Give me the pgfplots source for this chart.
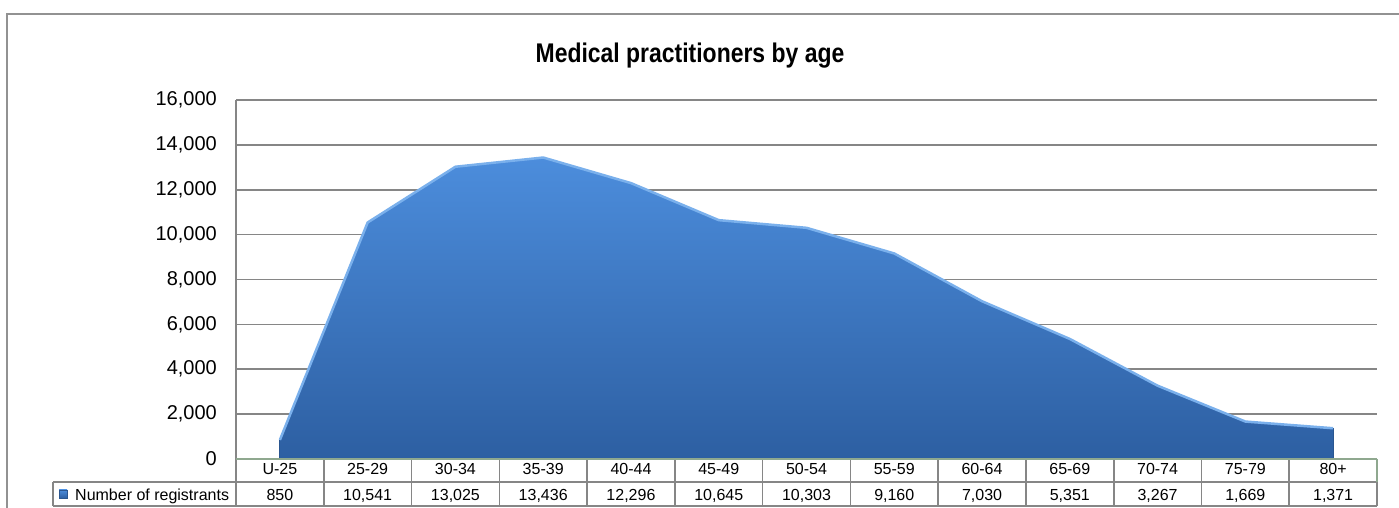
\documentclass[border=0pt]{standalone}
\usepackage{pgfplots}
\pgfplotsset{compat=1.18}
\usepackage{fontspec}
\setmainfont{Liberation Sans}
\definecolor{gridc}{HTML}{868686}
\definecolor{zeroc}{HTML}{8FA88F}
\definecolor{areatop}{HTML}{4C8DDC}
\definecolor{areabot}{HTML}{2D5FA2}
\definecolor{edgec}{HTML}{7AB0EC}
\definecolor{darkedge}{HTML}{2A5690}
\begin{document}
\begin{tikzpicture}[x=1pt,y=1pt]
\useasboundingbox (0,0) rectangle (1399,508);
\fill[white] (0,0) rectangle (1399,508);
\draw[gridc!90, line width=1.6pt] (7,-10) -- (7,494) -- (1420,494);
\node[font=\fontsize{27}{31}\selectfont\bfseries, anchor=base, xscale=0.85] at (690,445) {Medical practitioners by age};
\begin{axis}[
  at={(236pt,49pt)}, anchor=south west,
  scale only axis, width=1141pt, height=359pt,
  xmin=-0.5, xmax=12.5, ymin=0, ymax=16000,
  axis line style={draw=none},
  major tick length=0pt,
  ytick={0,2000,...,16000},
  ymajorgrids, grid style={gridc, line width=1.6pt},
  /pgf/number format/assume math mode=true,
  /pgf/number format/1000 sep={,},
  scaled y ticks=false,
  yticklabel style={font=\fontsize{20}{24}\selectfont, anchor=east, inner sep=0pt, xshift=-19pt},
  xtick={0,...,12},
  xticklabels={U-25,25-29,30-34,35-39,40-44,45-49,50-54,55-59,60-64,65-69,70-74,75-79,80+},
  xticklabel style={font=\fontsize{16}{19}\selectfont, anchor=base, yshift=-16pt},
  extra x ticks={0,...,12},
  extra x tick labels={850,{10,541},{13,025},{13,436},{12,296},{10,645},{10,303},{9,160},{7,030},{5,351},{3,267},{1,669},{1,371}},
  extra x tick style={xticklabel style={yshift=-26pt}},
  clip=false,
]
\addplot[draw=none, top color=areatop, bottom color=areabot] coordinates {
(0,850) (1,10541) (2,13025) (3,13436) (4,12296) (5,10645) (6,10303) (7,9160) (8,7030) (9,5351) (10,3267) (11,1669) (12,1371)
} \closedcycle;
\addplot[draw=darkedge, line width=1.2pt] coordinates {(0,0) (0,850)};
\addplot[draw=darkedge, line width=1.2pt] coordinates {(12,1371) (12,0)};
\addplot[draw=edgec, line width=2.5pt, line join=round] coordinates {
(0,850) (1,10541) (2,13025) (3,13436) (4,12296) (5,10645) (6,10303) (7,9160) (8,7030) (9,5351) (10,3267) (11,1669) (12,1371)
};
\end{axis}
% table lines
\draw[gridc, line width=1.6pt] (236,408) -- (236,2);
\draw[gridc, line width=1.6pt] (53,26) -- (1377,26);
\draw[gridc, line width=1.6pt] (53,2) -- (1377,2);
\draw[gridc, line width=1.6pt] (53,26) -- (53,2);
\foreach \k in {1,...,12} {
  \draw[gridc, line width=1.6pt] ({236+\k*87.769},49) -- ({236+\k*87.769},2);
}
\draw[zeroc, line width=1.6pt] (1377,49) -- (1377,26);
\draw[gridc, line width=1.6pt] (1377,26) -- (1377,2);
\draw[zeroc, line width=1.8pt] (236,49) -- (1377,49);
\shade[top color=areatop, bottom color=areabot, draw=darkedge, line width=0.4pt] (59,10) rectangle (67,18);
\node[font=\fontsize{16}{19}\selectfont, anchor=base west, inner sep=0pt] at (75,7) {Number of registrants};
\end{tikzpicture}
\end{document}
